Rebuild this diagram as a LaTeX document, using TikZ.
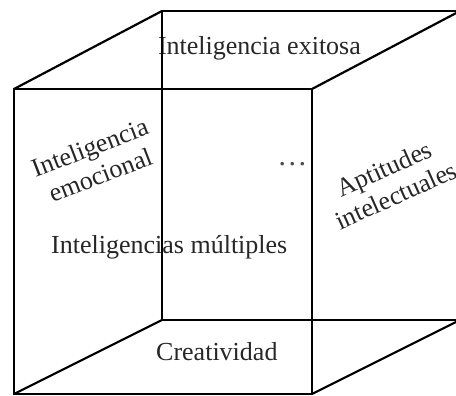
\documentclass[tikz,border=0pt]{standalone}
\usepackage{fontspec}
\setmainfont{Liberation Serif}
\begin{document}
\begin{tikzpicture}[x=1pt,y=-1pt,
  edge/.style={line width=2.2pt, line join=miter, black},
  lbl/.style={font=\fontsize{26}{29.5}\selectfont, inner sep=0pt, text=black!85},
  rlbl/.style={lbl, align=center}]
\useasboundingbox (0,0) rectangle (456,396);
% labels
\node[lbl, anchor=base west] (exi) at (157.8,55) {Inteligencia exitosa};
\node[lbl, anchor=base west] (mul) at (51,253) {Inteligencias múltiples};
\node[lbl, anchor=base west] (cre) at (156,360) {Creatividad};
\node[rlbl, rotate=21] (emo) at (95,161) {Inteligencia\\emocional};
\node[rlbl, rotate=24] (apt) at (390,182) {Aptitudes\\intelectuales};
\node[font=\fontsize{30}{30}\selectfont, inner sep=0pt, anchor=base, text=black!70] (dots) at (292.3,165) {…};
% cube
\coordinate (F1) at (14,89);
\coordinate (F2) at (312,89);
\coordinate (F3) at (312,394);
\coordinate (F4) at (14,394);
\coordinate (B1) at (162,11);
\coordinate (B2) at (460,11);
\coordinate (B3) at (460,320);
\coordinate (B4) at (162,320);
\draw[edge] (B1) -- (B2) -- (B3) -- (B4) -- cycle;
\draw[edge] (F1) -- (F2) -- (F3) -- (F4) -- cycle;
\draw[edge] (F1) -- (B1);
\draw[edge] (F2) -- (B2);
\draw[edge] (F3) -- (B3);
\draw[edge] (F4) -- (B4);
\end{tikzpicture}
\end{document}
